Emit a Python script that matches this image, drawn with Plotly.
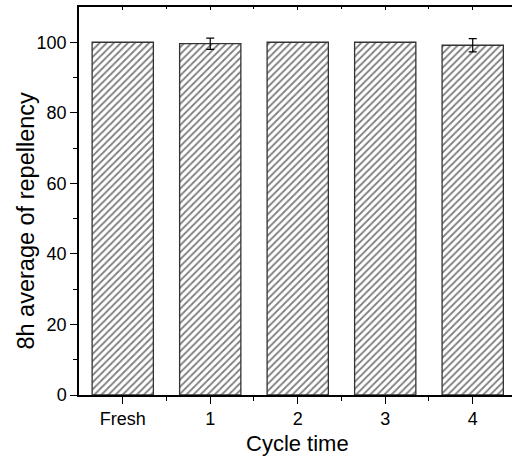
import plotly.graph_objects as go

categories = ["Fresh", "1", "2", "3", "4"]
values = [100.0, 99.6, 100.0, 100.0, 99.15]
errors = [0.0, 1.6, 0.0, 0.0, 1.9]
y_ticks = [0, 20, 40, 60, 80, 100]

x_pos = list(range(len(categories)))
FONT = "Liberation Sans, Arial, sans-serif"

fig = go.Figure()
fig.add_trace(go.Bar(
    x=x_pos, y=values, width=0.7,
    marker=dict(color="white", line=dict(color="#333333", width=1.3),
                pattern=dict(shape="/", fgcolor="black", bgcolor="white", size=5, solidity=0.36)),
    showlegend=False,
))
# error bars only where an error exists
ex = [x for x, e in zip(x_pos, errors) if e > 0]
ey = [v for v, e in zip(values, errors) if e > 0]
ee = [e for e in errors if e > 0]
fig.add_trace(go.Scatter(
    x=ex, y=ey, mode="markers", marker=dict(size=1, color="rgba(0,0,0,0)"),
    error_y=dict(type="data", array=ee, visible=True, color="black", thickness=1.2, width=4),
    showlegend=False, hoverinfo="skip",
))

fig.update_layout(
    width=512, height=462,
    margin=dict(l=79, r=0, t=7, b=67),
    paper_bgcolor="white", plot_bgcolor="white",
    font=dict(family=FONT, size=18, color="black"),
    xaxis=dict(
        range=[-0.5, 4.449], tickmode="array", tickvals=x_pos, ticktext=categories,
        showline=True, linecolor="black", linewidth=1.5, mirror=False,
        ticks="outside", ticklen=7, tickwidth=1.2, tickcolor="black",
        minor=dict(tickvals=[0.5, 1.5, 2.5, 3.5], ticks="outside", ticklen=4, tickwidth=1.2, tickcolor="black"),
        showgrid=False, zeroline=False,
        tickfont=dict(size=18),
    ),
    xaxis2=dict(
        overlaying="x", side="top", range=[-0.5, 4.449], tickmode="array", tickvals=x_pos,
        showticklabels=False, showline=True, linecolor="black", linewidth=1.5,
        ticks="inside", ticklen=3, tickwidth=1, tickcolor="black",
        minor=dict(tickvals=[0.5, 1.5, 2.5, 3.5], ticks="inside", ticklen=2, tickwidth=1, tickcolor="black"),
        showgrid=False, zeroline=False,
    ),
    yaxis=dict(
        range=[0, 110], tickmode="array", tickvals=y_ticks,
        showline=True, linecolor="black", linewidth=1.5,
        ticks="outside", ticklen=7, tickwidth=1.2, tickcolor="black",
        minor=dict(tickvals=[10, 30, 50, 70, 90], ticks="outside", ticklen=4, tickwidth=1.2, tickcolor="black"),
        showgrid=False, zeroline=False,
        tickfont=dict(size=18),
    ),
    annotations=[
        dict(text="Cycle time", xref="paper", yref="paper", x=0.5035, y=-0.124,
             xanchor="center", yanchor="middle", showarrow=False, font=dict(size=22)),
        dict(text="8h average of repellency", xref="paper", yref="paper", x=-0.122, y=0.45,
             xanchor="center", yanchor="middle", textangle=-90, showarrow=False, font=dict(size=23.5)),
    ],
)
fig.add_trace(go.Scatter(x=[None], y=[None], xaxis="x2", showlegend=False, hoverinfo="skip"))

fig.write_html("out.html")
